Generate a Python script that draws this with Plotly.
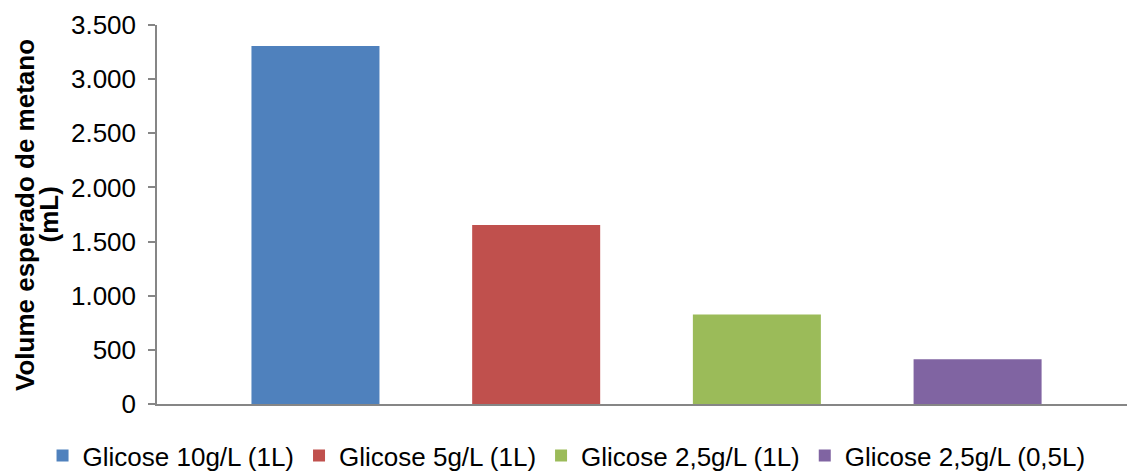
import plotly.graph_objects as go

# Expected methane volume per glucose condition
categories = [
    "Glicose 10g/L (1L)",
    "Glicose 5g/L (1L)",
    "Glicose 2,5g/L (1L)",
    "Glicose 2,5g/L (0,5L)",
]
volumes = [3306, 1653, 827, 413]
colors = ["#4F81BD", "#C0504D", "#9BBB59", "#8064A2"]
y_ticks = [0, 500, 1000, 1500, 2000, 2500, 3000, 3500]
y_title_lines = ["Volume esperado de metano", "(mL)"]

FONT = "Liberation Sans, Arial, sans-serif"
AXIS_GRAY = "#868686"

fig = go.Figure()
for cat, vol, col in zip(categories, volumes, colors):
    fig.add_trace(
        go.Bar(
            x=[cat],
            y=[vol],
            name=cat,
            width=0.58,
            marker=dict(color=col, line=dict(width=0)),
        )
    )

fig.update_layout(
    width=1127,
    height=471,
    margin=dict(l=157, r=0, t=25, b=67, autoexpand=False),
    paper_bgcolor="white",
    plot_bgcolor="white",
    separators=",.",
    font=dict(family=FONT, color="#000000", size=24),
    showlegend=True,
    legend=dict(
        orientation="h",
        x=-0.118,
        xanchor="left",
        y=-0.074,
        yanchor="top",
        font=dict(family=FONT, size=26, color="#000000"),
        bgcolor="rgba(0,0,0,0)",
        traceorder="normal",
    ),
    xaxis=dict(
        type="category",
        categoryorder="array",
        categoryarray=categories,
        range=[-0.718, 3.677],
        showticklabels=False,
        ticks="",
        showline=True,
        linecolor=AXIS_GRAY,
        linewidth=1.5,
        showgrid=False,
        zeroline=False,
    ),
    yaxis=dict(
        range=[0, 3500],
        tickvals=y_ticks,
        tickformat=",d",
        ticks="outside",
        ticklen=7,
        tickcolor=AXIS_GRAY,
        tickwidth=1.5,
        ticklabelstandoff=7,
        showline=True,
        linecolor=AXIS_GRAY,
        linewidth=1.5,
        showgrid=False,
        zeroline=False,
        tickfont=dict(family=FONT, size=26, color="#000000"),
        automargin=False,
    ),
)

# Two-line rotated axis title with tight line spacing
for line_text, x_pos in zip(y_title_lines, [-0.1366, -0.1114]):
    fig.add_annotation(
        text=line_text,
        xref="paper",
        yref="paper",
        x=x_pos,
        y=0.5,
        xanchor="center",
        yanchor="middle",
        textangle=-90,
        showarrow=False,
        font=dict(family=FONT, size=26, color="#000000", weight="bold"),
    )

# Small boundary tick below the category axis at its left end
fig.add_shape(
    type="line",
    xref="x domain",
    yref="y",
    x0=0,
    x1=0,
    ysizemode="pixel",
    yanchor=0,
    y0=0,
    y1=-7,
    line=dict(color=AXIS_GRAY, width=1.5),
)

fig.write_html("out.html")
